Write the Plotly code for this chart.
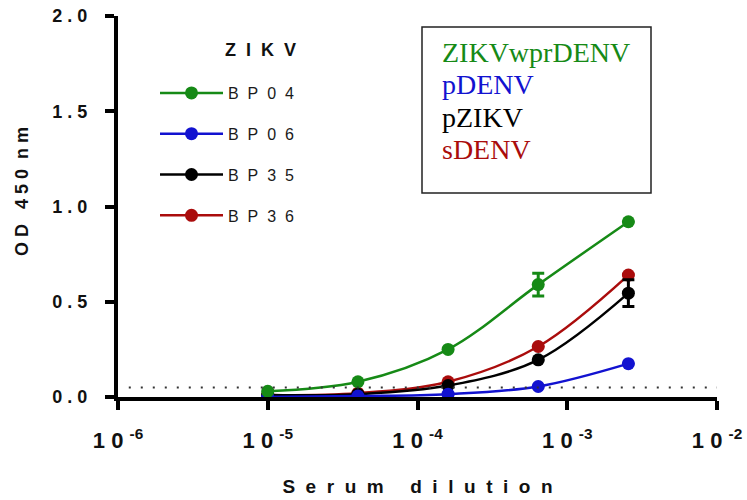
import plotly.graph_objects as go

# ---- data ----
dilution = [1e-5, 4e-5, 1.6e-4, 6.4e-4, 2.56e-3]
series_names = ["BP04", "BP06", "BP35", "BP36"]
bp04 = [0.03, 0.08, 0.25, 0.59, 0.92]
bp04_err = [0, 0, 0, 0.06, 0]
bp06 = [0.0, 0.005, 0.015, 0.055, 0.175]
bp06_err = [0, 0, 0, 0, 0]
bp35 = [0.01, 0.015, 0.06, 0.195, 0.545]
bp35_err = [0, 0, 0, 0, 0.07]
bp36 = [0.01, 0.02, 0.08, 0.265, 0.64]
bp36_err = [0, 0, 0, 0, 0]
cutoff = 0.05

x_tickvals = [1e-6, 1e-5, 1e-4, 1e-3, 1e-2]
x_exponents = ["-6", "-5", "-4", "-3", "-2"]
y_tickvals = [0.0, 0.5, 1.0, 1.5, 2.0]
y_ticklabels = ["0.0", "0.5", "1.0", "1.5", "2.0"]

box_lines = ["ZIKVwprDENV", "pDENV", "pZIKV", "sDENV"]

# ---- styling ----
GREEN = "#168a16"
BLUE = "#1212d0"
BLACK = "#000000"
RED = "#aa0c0c"
NB = "\u00a0"

def spaced(s, gap=1):
    return (NB * gap).join(list(s))

def px_x(px):
    return (px - 118) / 599

def px_y(py):
    return (397 - py) / 381

fig = go.Figure()

# draw order: red, black, blue, green (green on top)
trace_specs = [
    ("BP36", bp36, bp36_err, RED, 4),
    ("BP35", bp35, bp35_err, BLACK, 3),
    ("BP06", bp06, bp06_err, BLUE, 2),
    ("BP04", bp04, bp04_err, GREEN, 1),
]
for name, ys, errs, col, rank in trace_specs:
    fig.add_trace(go.Scatter(
        x=dilution, y=ys,
        mode="lines+markers",
        name=spaced(name, 2),
        legendgroup=name,
        legendrank=rank,
        line=dict(color=col, width=2.5, shape="spline", smoothing=1.0),
        marker=dict(color=col, size=13, symbol="circle"),
        error_y=dict(type="data", array=errs, visible=True, color=col,
                     thickness=3, width=6),
    ))

fig.add_shape(type="line", xref="paper", yref="y", x0=0.018, x1=1.0,
              y0=cutoff, y1=cutoff,
              line=dict(color="#333333", width=2, dash="2px,10px"))

# text box
fig.add_shape(type="rect", xref="paper", yref="paper",
              x0=px_x(422), x1=px_x(651), y0=px_y(193), y1=px_y(27),
              line=dict(color="#222222", width=1.5), fillcolor="rgba(0,0,0,0)")
box_colors = [GREEN, BLUE, BLACK, RED]
box_centers_px = [52, 84.5, 117, 149.5]
for txt, col, cy in zip(box_lines, box_colors, box_centers_px):
    fig.add_annotation(text=txt, xref="paper", yref="paper",
                       x=px_x(440), y=px_y(cy),
                       xanchor="left", yanchor="middle", showarrow=False,
                       font=dict(family="Liberation Serif", size=28, color=col))

# legend title
fig.add_annotation(text="<b>" + spaced("ZIKV", 2) + "</b>", xref="paper", yref="paper",
                   x=px_x(260), y=px_y(50),
                   xanchor="center", yanchor="middle", showarrow=False,
                   font=dict(family="Liberation Sans", size=18, color="#111111"))

# y axis title (placed as rotated text)
y_title = "O" + NB + "D" + NB * 3 + "4" + NB + "5" + NB + "0" + NB * 2 + "n" + NB + "m"
fig.add_annotation(text="<b>" + y_title + "</b>", xref="paper", yref="paper",
                   x=px_x(22), y=px_y(192), textangle=-90,
                   xanchor="center", yanchor="middle", showarrow=False,
                   font=dict(family="Liberation Sans", size=18, color="#111111"))

x_ticktext = ["1" + NB + "0" + NB + "<sup>" + e + "</sup>" for e in x_exponents]
y_ticktext = [spaced(t) for t in y_ticklabels]

axis_common = dict(showline=True, linewidth=4, linecolor="black",
                   ticks="outside", ticklen=9, tickwidth=4, tickcolor="black",
                   showgrid=False, zeroline=False, automargin=False)

fig.update_layout(
    width=747, height=500,
    margin=dict(l=118, r=30, t=16, b=103),
    plot_bgcolor="white", paper_bgcolor="white",
    xaxis=dict(type="log", range=[-6, -2], tickvals=x_tickvals, ticktext=x_ticktext,
               tickfont=dict(family="Liberation Sans", size=22, color="#111111", weight="bold"),
               ticklabelstandoff=12,
               title=dict(text=spaced("Serum", 2) + NB * 5 + spaced("dilution", 2),
                          font=dict(family="Liberation Sans", size=19, color="#111111", weight="bold"),
                          standoff=28),
               **axis_common),
    yaxis=dict(range=[0, 2], tickvals=y_tickvals, ticktext=y_ticktext,
               tickfont=dict(family="Liberation Sans", size=18, color="#111111", weight="bold"),
               ticklabelstandoff=14,
               **axis_common),
    legend=dict(x=px_x(155), y=px_y(76), xanchor="left", yanchor="top",
                font=dict(family="Liberation Sans", size=16, color="#1a1a1a"),
                traceorder="grouped", tracegroupgap=17, itemwidth=63,
                bgcolor="rgba(0,0,0,0)", borderwidth=0),
    showlegend=True,
)

fig.write_html("out.html")
